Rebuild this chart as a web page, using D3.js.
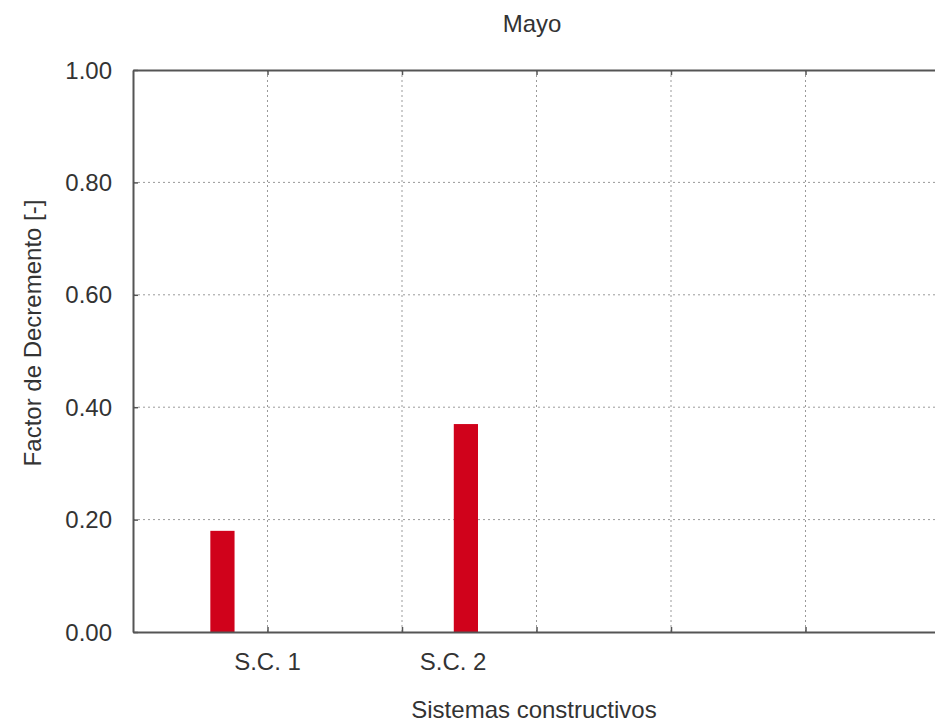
<!DOCTYPE html>
<html>
<head>
<meta charset="utf-8">
<script src="https://cdn.jsdelivr.net/npm/d3@7"></script>
<style>
  html, body { margin: 0; padding: 0; background: #fff; }
  svg { display: block; }
  text { font-family: "Liberation Sans", Arial, sans-serif; fill: #333; }
</style>
</head>
<body>
<svg id="chart" width="935" height="724"></svg>
<script>
// Decrement factor per construction system, month of May
const categories = ["S.C. 1", "S.C. 2"];
const values = [0.18, 0.37];
// bar centres and category label positions, in x-axis units
const barPositions = [0.665, 2.475];
const labelPositions = [1, 2.38];
const xGridTicks = [1, 2, 3, 4, 5];
const yTicks = [0, 0.2, 0.4, 0.6, 0.8, 1.0];
const yTickLabels = ["0.00", "0.20", "0.40", "0.60", "0.80", "1.00"];
const barWidthUnits = 0.18;

const title = "Mayo";
const xTitle = "Sistemas constructivos";
const yTitle = "Factor de Decremento [-]";

const svg = d3.select("#chart");
const margin = { left: 133, top: 70, bottom: 632, right: 940 };

const x = d3.scaleLinear().domain([0, 6]).range([margin.left, margin.right]);
const y = d3.scaleLinear().domain([0, 1]).range([margin.bottom, margin.top]);

const frameColor = "#555";
const gridColor = "#9a9a9a";

// grid lines
const grid = svg.append("g");
grid.selectAll("line.hg")
  .data(yTicks.filter(t => t > 0 && t < 1))
  .join("line")
  .attr("x1", margin.left).attr("x2", margin.right)
  .attr("y1", d => y(d)).attr("y2", d => y(d))
  .attr("stroke", gridColor).attr("stroke-width", 1)
  .attr("stroke-dasharray", "2,3");
grid.selectAll("line.vg")
  .data(xGridTicks)
  .join("line")
  .attr("x1", d => x(d)).attr("x2", d => x(d))
  .attr("y1", margin.top).attr("y2", margin.bottom)
  .attr("stroke", gridColor).attr("stroke-width", 1)
  .attr("stroke-dasharray", "2,3");

// bars
svg.append("g").selectAll("rect")
  .data(values)
  .join("rect")
  .attr("x", (d, i) => x(barPositions[i]) - (x(barWidthUnits) - x(0)) / 2)
  .attr("width", x(barWidthUnits) - x(0))
  .attr("y", d => y(d))
  .attr("height", d => y(0) - y(d))
  .attr("fill", "#d0021b");

// y axis (left), ticks pointing inward
const yAxis = d3.axisRight(y)
  .tickValues(yTicks)
  .tickFormat((d, i) => "")
  .tickSize(5)
  .tickSizeOuter(0);
const gy = svg.append("g").attr("transform", `translate(${margin.left},0)`).call(yAxis);
gy.select(".domain").attr("stroke", frameColor).attr("stroke-width", 2);
gy.selectAll(".tick line").attr("stroke", frameColor).attr("stroke-width", 1.5);

svg.append("g").selectAll("text")
  .data(yTicks)
  .join("text")
  .attr("x", margin.left - 21)
  .attr("y", d => y(d) + 8.5)
  .attr("text-anchor", "end")
  .style("font-size", "24px")
  .text((d, i) => yTickLabels[i]);

// x axis (bottom) and top frame, ticks pointing inward
const xBottom = d3.axisTop(x).tickValues(xGridTicks).tickFormat("").tickSize(5).tickSizeOuter(0);
const gxb = svg.append("g").attr("transform", `translate(0,${margin.bottom})`).call(xBottom);
const xTop = d3.axisBottom(x).tickValues(xGridTicks).tickFormat("").tickSize(5).tickSizeOuter(0);
const gxt = svg.append("g").attr("transform", `translate(0,${margin.top})`).call(xTop);
[gxb, gxt].forEach(g => {
  g.select(".domain").attr("stroke", frameColor).attr("stroke-width", 2);
  g.selectAll(".tick line").attr("stroke", frameColor).attr("stroke-width", 1.5);
});

// category labels
svg.append("g").selectAll("text")
  .data(categories)
  .join("text")
  .attr("x", (d, i) => x(labelPositions[i]))
  .attr("y", 670)
  .attr("text-anchor", "middle")
  .style("font-size", "24px")
  .text(d => d);

// titles
svg.append("text")
  .attr("x", 532).attr("y", 32)
  .attr("text-anchor", "middle")
  .style("font-size", "24px")
  .text(title);

svg.append("text")
  .attr("x", 534).attr("y", 718)
  .attr("text-anchor", "middle")
  .style("font-size", "24px")
  .text(xTitle);

svg.append("text")
  .attr("transform", "translate(41,333) rotate(-90)")
  .attr("text-anchor", "middle")
  .style("font-size", "24px")
  .text(yTitle);
</script>
</body>
</html>
